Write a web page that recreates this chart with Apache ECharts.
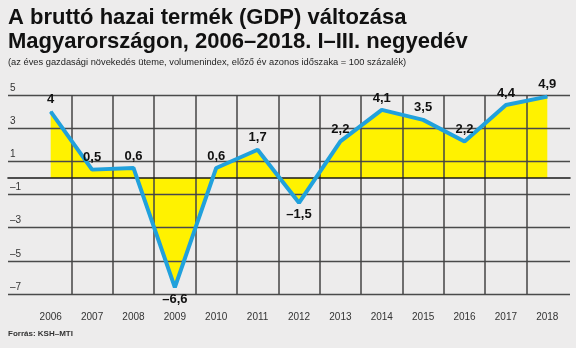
<!DOCTYPE html>
<html>
<head>
<meta charset="utf-8">
<script src="https://cdn.jsdelivr.net/npm/echarts@6/dist/echarts.min.js"></script>
<style>
html,body{margin:0;padding:0;background:#edecec;}
#c{width:576px;height:348px;}
</style>
</head>
<body>
<div id="c"></div>
<script>
const years = ['2006','2007','2008','2009','2010','2011','2012','2013','2014','2015','2016','2017','2018'];
const gdp = [4, 0.5, 0.6, -6.6, 0.6, 1.7, -1.5, 2.2, 4.1, 3.5, 2.2, 4.4, 4.9];
const yMin = -7, yMax = 5;
const titleLines = ['A bruttó hazai termék (GDP) változása', 'Magyarországon, 2006–2018. I–III. negyedév'];
const subtitle = '(az éves gazdasági növekedés üteme, volumenindex, előző év azonos időszaka = 100 százalék)';
const source = 'Forrás: KSH–MTI';

const fmt = v => String(v).replace('.', ',').replace('-', '–');
const FONT = '"Liberation Sans", Arial, sans-serif';

const chart = echarts.init(document.getElementById('c'), null, {renderer: 'canvas'});
chart.setOption({
  backgroundColor: '#edecec',
  animation: false,
  grid: [
    {left: 8, right: 6, top: 95, bottom: 54},
    {left: 30, right: 8, top: 95, bottom: 54}
  ],
  xAxis: [
    {gridIndex: 0, type: 'value', min: 0, max: 1, z: 3,
     axisLine: {show: true, onZero: true, lineStyle: {color: '#1a1a1a', width: 1.6}},
     axisTick: {show: false}, axisLabel: {show: false}, splitLine: {show: false}},
    {gridIndex: 1, type: 'category', data: years, boundaryGap: true, z: 3,
     axisLine: {show: false}, axisTick: {show: false},
     axisLabel: {color: '#333', fontSize: 10, fontFamily: FONT, margin: 18},
     splitLine: {show: true, showMinLine: false, showMaxLine: false, lineStyle: {color: '#444', width: 1.5}}}
  ],
  yAxis: [
    {gridIndex: 0, type: 'value', min: yMin, max: yMax, interval: 1, z: 3,
     axisLine: {show: false}, axisTick: {show: false},
     axisLabel: {inside: true, margin: 2, verticalAlign: 'bottom', padding: [0,0,2,0],
       color: '#333', fontSize: 10, fontFamily: FONT,
       formatter: v => (Math.abs(v) % 2 === 1 ? fmt(v) : '')},
     splitLine: {show: true, lineStyle: {color: ['#4a4a4a', 'rgba(0,0,0,0)'], width: 1.3}}},
    {gridIndex: 1, type: 'value', min: yMin, max: yMax, interval: 1,
     axisLine: {show: false}, axisTick: {show: false}, axisLabel: {show: false}, splitLine: {show: false}}
  ],
  series: [
    {type: 'line', xAxisIndex: 1, yAxisIndex: 1, data: gdp, z: 1,
     symbol: 'none', lineStyle: {width: 0},
     areaStyle: {color: '#fff200', opacity: 1, origin: 0}},
    {type: 'line', xAxisIndex: 1, yAxisIndex: 1, z: 5,
     data: gdp.map(v => ({value: v, label: {position: v < 0 ? 'bottom' : 'top'}})),
     symbol: 'circle', symbolSize: 1, itemStyle: {color: '#21a1dc'},
     lineStyle: {color: '#21a1dc', width: 4},
     label: {show: true, distance: 5, color: '#111', fontWeight: 'bold', fontSize: 13, fontFamily: FONT,
       formatter: p => fmt(p.value)}}
  ],
  graphic: [
    {type: 'text', left: 8, top: 7, style: {text: titleLines[0], fill: '#111', font: 'bold 22px ' + FONT}},
    {type: 'text', left: 8, top: 31, style: {text: titleLines[1], fill: '#111', font: 'bold 22px ' + FONT}},
    {type: 'text', left: 8, top: 58, style: {text: subtitle, fill: '#222', font: '9.3px ' + FONT}},
    {type: 'text', left: 8, top: 330, style: {text: source, fill: '#333', font: 'bold 8px ' + FONT}}
  ]
});
</script>
</body>
</html>
